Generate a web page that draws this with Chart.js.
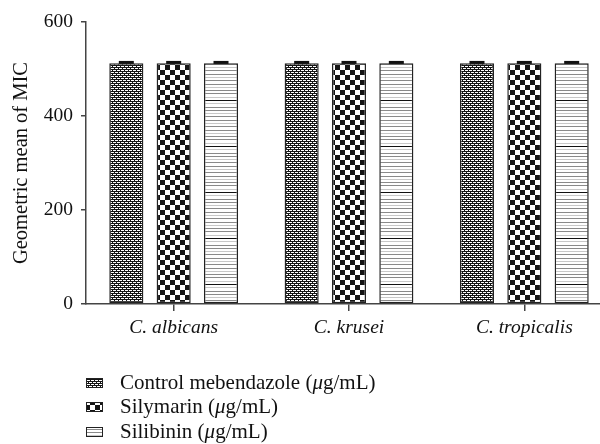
<!DOCTYPE html>
<html>
<head>
<meta charset="utf-8">
<script src="https://cdn.jsdelivr.net/npm/chart.js@4.4.1/dist/chart.umd.min.js"></script>
<style>
  html, body { margin: 0; padding: 0; background: #fff; overflow: hidden; }
  #wrap { width: 612px; height: 444px; }
</style>
</head>
<body>
<div id="wrap"><canvas id="c" width="612" height="444"></canvas></div>
<script>
// Species tested and geometric mean MIC per compound
const categories = ['C. albicans', 'C. krusei', 'C. tropicalis'];
const seriesNames = ['Control mebendazole', 'Silymarin', 'Silibinin'];
const mebendazole = [512, 512, 512];
const silymarin = [512, 512, 512];
const silibinin = [512, 512, 512];
const errMebendazole = [2, 2, 2];
const errSilymarin = [2, 2, 2];
const errSilibinin = [2, 2, 2];
const yTicks = [0, 200, 400, 600];

const SERIF = '"Liberation Serif", "DejaVu Serif", serif';
const INK = '#222';

// Fill patterns for the three series
function tile(w, h, draw) {
  const cv = document.createElement('canvas');
  cv.width = w; cv.height = h;
  const g = cv.getContext('2d');
  draw(g);
  return document.createElement('canvas').getContext('2d').createPattern(cv, 'repeat');
}
const dotRows = ['1101', '0000', '0111', '0000'];
const dotPattern = tile(4, 4, g => {
  g.fillStyle = '#151515'; g.fillRect(0, 0, 4, 4);
  g.fillStyle = '#fff';
  dotRows.forEach((r, y) => [...r].forEach((c, x) => { if (c === '1') g.fillRect(x, y, 1, 1); }));
});
const checkPattern = tile(10, 10, g => {
  g.fillStyle = '#fff'; g.fillRect(0, 0, 10, 10);
  g.fillStyle = '#151515';
  g.fillRect(0, 0, 5, 5); g.fillRect(5, 5, 5, 5);
});
const linePattern = tile(8, 46, g => {
  g.fillStyle = '#fff'; g.fillRect(0, 0, 8, 46);
  for (let k = 0; k < 14; k++) {
    const y = Math.round(8 + k * 46 / 14) % 46;
    g.fillStyle = (k % 3 === 1) ? '#c8c8c8' : '#8a8a8a';
    g.fillRect(0, y, 8, 1);
  }
  g.fillStyle = '#111'; g.fillRect(0, 8, 8, 1);
});

// Error bar caps on top of each bar
const errorBars = {
  id: 'errorBars',
  afterDatasetsDraw(chart) {
    const ctx = chart.ctx;
    const y = chart.scales.y;
    chart.data.datasets.forEach((ds, i) => {
      const meta = chart.getDatasetMeta(i);
      meta.data.forEach((bar, j) => {
        const top = y.getPixelForValue(ds.data[j] + ds.errors[j]);
        const base = y.getPixelForValue(ds.data[j]);
        ctx.save();
        ctx.strokeStyle = '#111';
        ctx.lineWidth = 1.5;
        ctx.beginPath();
        ctx.moveTo(bar.x, base); ctx.lineTo(bar.x, top);
        ctx.stroke();
        ctx.lineWidth = 3;
        ctx.beginPath();
        ctx.moveTo(bar.x - 7.5, top); ctx.lineTo(bar.x + 7.5, top);
        ctx.stroke();
        ctx.restore();
      });
    });
  }
};

// Legend stacked under the axis
const stackedLegend = {
  id: 'stackedLegend',
  afterDraw(chart) {
    const ctx = chart.ctx;
    const x0 = chart.chartArea.left;
    const base = chart.chartArea.bottom;
    const rows = [79, 103, 128];
    ctx.save();
    chart.data.datasets.forEach((ds, i) => {
      const cy = base + rows[i];
      ctx.fillStyle = ds.backgroundColor;
      ctx.fillRect(x0, cy - 5, 17, 10);
      ctx.strokeStyle = INK;
      ctx.lineWidth = 1;
      ctx.strokeRect(x0 + 0.5, cy - 4.5, 16, 9);
      ctx.fillStyle = '#111';
      ctx.textBaseline = 'middle';
      let tx = x0 + 34;
      const parts = [[ds.label + ' (', ''], ['\u03bc', 'italic '], ['g/mL)', '']];
      parts.forEach(([s, st]) => {
        ctx.font = st + '21px ' + SERIF;
        ctx.fillText(s, tx, cy);
        tx += ctx.measureText(s).width;
      });
    });
    ctx.restore();
  }
};

const ds = (label, data, errors, fill) => ({
  label, data, errors,
  backgroundColor: fill,
  borderColor: INK,
  borderWidth: 1.5,
  borderSkipped: false,
  categoryPercentage: 0.81,
  barPercentage: 0.72
});

new Chart(document.getElementById('c'), {
  type: 'bar',
  data: {
    labels: categories,
    datasets: [
      ds(seriesNames[0], mebendazole, errMebendazole, dotPattern),
      ds(seriesNames[1], silymarin, errSilymarin, checkPattern),
      ds(seriesNames[2], silibinin, errSilibinin, linePattern)
    ]
  },
  options: {
    responsive: false,
    animation: false,
    layout: { padding: { top: 22, right: 0, left: 0, bottom: 0 } },
    plugins: { legend: { display: false }, tooltip: { enabled: false } },
    scales: {
      x: {
        afterFit(s) { s.height = 140; },
        grid: { drawOnChartArea: false, drawTicks: true, tickLength: 7, offset: false, color: '#444', lineWidth: 1.5 },
        border: { color: '#444', width: 1.5 },
        ticks: { color: '#111', padding: 5, font: { family: SERIF, size: 19.5, style: 'italic' } }
      },
      y: {
        min: 0, max: 600,
        afterFit(s) { s.width = 86; },
        afterBuildTicks(s) { s.ticks = yTicks.map(v => ({ value: v })); },
        grid: { drawOnChartArea: false, drawTicks: true, tickLength: 5, color: '#444', lineWidth: 1.5 },
        border: { color: '#444', width: 1.5 },
        ticks: { color: '#111', padding: 8, font: { family: SERIF, size: 19.5 } },
        title: { display: true, text: 'Geometric mean of MIC', color: '#111', padding: { top: 9, bottom: 0 }, font: { family: SERIF, size: 20.5 } }
      }
    }
  },
  plugins: [errorBars, stackedLegend]
});
</script>
</body>
</html>
